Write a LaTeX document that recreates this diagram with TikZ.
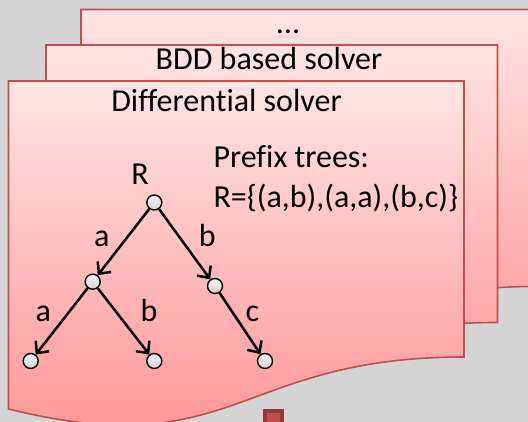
\documentclass[tikz,border=0pt]{standalone}
\usepackage{fontspec}
\setmainfont{Carlito}[Ligatures=NoCommon]
\usetikzlibrary{arrows.meta}
\definecolor{bgc}{HTML}{D4D4D4}
\definecolor{docedge}{HTML}{C0504D}
\definecolor{doctop}{HTML}{FFE4E4}
\definecolor{docbot}{HTML}{FF9090}
\definecolor{sqdark}{HTML}{953735}
\begin{document}
\begin{tikzpicture}[x=1pt,y=-1pt,
  docsheet/.style={draw=docedge,line width=1.6pt,top color=doctop,bottom color=docbot},
  tnode/.style={circle,draw=black,line width=1.4pt,minimum size=15pt,inner sep=0pt,top color=gray!8,bottom color=gray!35},
  txt/.style={anchor=base,inner sep=0pt,font=\fontsize{32}{38}\selectfont},
  edge/.style={draw=black,line width=2.5pt,-{Straight Barb[length=9pt,width=17pt]}}]
\useasboundingbox (0,0) rectangle (528,422);
\clip (0,0) rectangle (528,422);
\fill[bgc] (0,0) rectangle (528,422);
% sheets
\path[docsheet] (81,9.5) -- (536,9.5) -- (536,286.5) .. controls (308.5,286.5) and (308.5,394.5) .. (81,337.5) -- cycle;
\path[docsheet] (46,45) -- (497.5,45) -- (497.5,322.5) .. controls (271.75,322.5) and (271.75,430) .. (46,373) -- cycle;
\path[docsheet] (8.5,81) -- (464,81) -- (464,357) .. controls (236,357) and (236,465) .. (8.5,409) -- cycle;
% titles
\node[txt] (t3) at (288,33.5) {...};
\node[txt] (t2) at (269,70) {BDD based solver};
\node[txt] (t1) at (226.5,112) {Differential solver};
\node[txt,anchor=base west] (p1) at (213.3,168) {Prefix trees:};
\node[txt,anchor=base west] (p2) at (213.3,208) {R=\{(a,b),(a,a),(b,c)\}};
% tree
\node[tnode] (r) at (154.3,202.5) {};
\node[tnode] (na) at (92.7,281.7) {};
\node[tnode] (nb) at (215,286) {};
\node[tnode] (naa) at (30.7,361) {};
\node[tnode] (nab) at (154.3,361) {};
\node[tnode] (nbc) at (265,361) {};
\draw[edge] (r) -- (na);
\draw[edge] (r) -- (nb);
\draw[edge] (na) -- (naa);
\draw[edge] (na) -- (nab);
\draw[edge] (nb) -- (nbc);
\node[txt] (lr) at (140,185) {R};
\node[txt] (la) at (101.7,246.7) {a};
\node[txt] (lb) at (207.3,247) {b};
\node[txt] (laa) at (43.3,321.7) {a};
\node[txt] (lab) at (149,321.7) {b};
\node[txt] (lbc) at (252.3,321.7) {c};
% small marker
\fill[sqdark] (262.5,408.5) rectangle (284,430);
\fill[docedge] (266.5,412.5) rectangle (280,430);
\end{tikzpicture}
\end{document}
